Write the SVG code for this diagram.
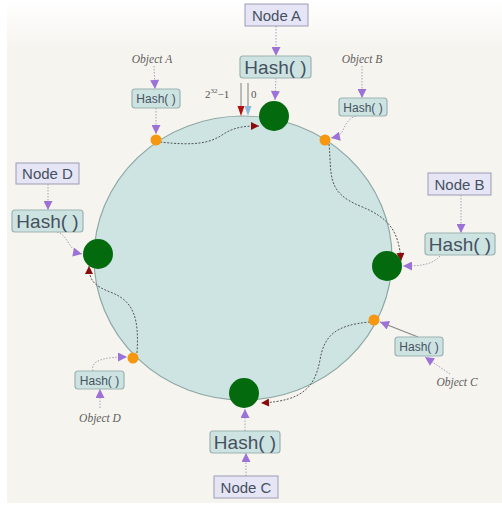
<svg xmlns="http://www.w3.org/2000/svg" width="502" height="510" viewBox="0 0 502 510">
<defs>
<style>
.nbox{fill:#e5e5f6;stroke:#9c9cb4;stroke-width:1}
.hbox{fill:#cde3e2;stroke:#9bb3b1;stroke-width:1.2}
.nt{font-family:"Liberation Sans",Arial,sans-serif;font-size:15px;fill:#46515e;text-anchor:middle}
.ht{font-family:"Liberation Sans",Arial,sans-serif;font-size:19px;fill:#46515e;text-anchor:middle}
.hs{font-family:"Liberation Sans",Arial,sans-serif;font-size:12px;fill:#46515e;text-anchor:middle}
.ot{font-family:"Liberation Serif","Times New Roman",serif;font-style:italic;font-size:11.5px;fill:#5e5e5e;text-anchor:middle}
.lt{font-family:"Liberation Serif","Times New Roman",serif;font-size:11px;fill:#555}
.pl{fill:none;stroke:#a8a0b8;stroke-width:1;stroke-dasharray:1.5 1.5;marker-end:url(#pa)}
.ps{fill:none;stroke:#888;stroke-width:1.2;marker-end:url(#pa)}
.fl{fill:none;stroke:#555;stroke-width:1;stroke-dasharray:2 1.5;marker-end:url(#ra)}
.gn{fill:#036b0e}
.on{fill:#f6980f}
</style>
<marker id="pa" viewBox="0 0 10 10" refX="10" refY="5" markerWidth="10" markerHeight="9" markerUnits="userSpaceOnUse" orient="auto">
<path d="M0,0 L10,5 L0,10 Z" fill="#9c72d6"/>
</marker>
<marker id="ra" viewBox="0 0 10 10" refX="10" refY="5" markerWidth="9" markerHeight="8" markerUnits="userSpaceOnUse" orient="auto">
<path d="M0,0 L10,5 L0,10 Z" fill="#8a0b0b"/>
</marker>
<linearGradient id="tg" x1="0" y1="0" x2="0" y2="1">
<stop offset="0" stop-color="#ffffff" stop-opacity="1"/>
<stop offset="1" stop-color="#ffffff" stop-opacity="0"/>
</linearGradient>
</defs>
<rect x="0" y="0" width="502" height="510" fill="#f6f4ef"/>
<rect x="0" y="0" width="502" height="50" fill="url(#tg)"/>
<rect x="0" y="0" width="7" height="510" fill="#ffffff"/>
<rect x="0" y="503" width="502" height="7" fill="#ffffff"/>

<g id="ring">
<ellipse cx="243" cy="258" rx="149" ry="142" fill="#cde4e3" stroke="#8fa8a4" stroke-width="1.2"/>
</g>

<g id="connectors">
<path class="pl" d="M276,26 L276,56"/>
<path class="pl" d="M276,78 L275,100"/>
<path class="pl" d="M154,66 L155,89"/>
<path class="pl" d="M156,108 L156,134"/>
<path class="pl" d="M362,66 L362,98"/>
<path class="pl" d="M356,116 C348,118 345,126 342,132 C339,136 336,137 331,138"/>
<path class="pl" d="M461,195 L461,233"/>
<path class="pl" d="M440,256 C432,265 420,266 403,266"/>
<path class="pl" d="M450,374 L425,357"/>
<path class="ps" d="M418,337 L380,322"/>
<path class="pl" d="M246,476 L246,453"/>
<path class="pl" d="M245,431 L245,409"/>
<path class="pl" d="M100,408 L100,389"/>
<path class="pl" d="M93,371 C90,360 105,357 127,357"/>
<path class="pl" d="M48,184 L48,210"/>
<path class="pl" d="M57,232 C68,234 68,251 82,254"/>
<line x1="241" y1="83" x2="241" y2="107" stroke="#666" stroke-width="0.8"/>
<line x1="248" y1="83" x2="248" y2="107" stroke="#666" stroke-width="0.8"/>
<path d="M237.5,106 L244.5,106 L241,116 Z" fill="#b01010"/>
<path d="M244.5,106 L251.5,106 L248,116 Z" fill="#8cb8e0"/>
<path class="fl" d="M160,142 C195,146 210,143 222,135 C234,127 244,126 259,126"/>
<path class="fl" d="M329,144 C332,175 326,192 360,206 C390,218 399,232 401,261"/>
<path class="fl" d="M370,322 C335,325 324,336 320,360 C315,386 304,401 261,403"/>
<path class="fl" d="M137,353 C139,320 135,301 110,292 C95,286 89,281 89,266"/>
</g>

<g id="nodeA">
<rect class="nbox" x="245" y="4" width="63" height="22"/>
<text class="nt" x="276.5" y="20.5">Node A</text>
<rect class="hbox" x="240" y="56" width="71" height="22" rx="3"/>
<text class="ht" x="275.5" y="74">Hash( )</text>
<circle class="gn" cx="274" cy="116" r="15"/>
</g>
<g id="nodeB">
<rect class="nbox" x="428" y="173" width="63" height="22"/>
<text class="nt" x="459.5" y="189.5">Node B</text>
<rect class="hbox" x="425" y="233" width="70" height="22" rx="3"/>
<text class="ht" x="460" y="251">Hash( )</text>
<circle class="gn" cx="387" cy="266" r="15"/>
</g>
<g id="nodeC">
<rect class="nbox" x="214" y="476" width="64" height="22"/>
<text class="nt" x="246" y="492.5">Node C</text>
<rect class="hbox" x="210" y="431" width="70" height="22" rx="3"/>
<text class="ht" x="245" y="449">Hash( )</text>
<circle class="gn" cx="244" cy="393" r="15"/>
</g>
<g id="nodeD">
<rect class="nbox" x="16" y="163" width="63" height="21"/>
<text class="nt" x="47.5" y="179">Node D</text>
<rect class="hbox" x="12" y="210" width="71" height="22" rx="3"/>
<text class="ht" x="47.5" y="228">Hash( )</text>
<circle class="gn" cx="98" cy="254" r="15"/>
</g>
<g id="objectA">
<text class="ot" x="152" y="63">Object A</text>
<rect class="hbox" x="132" y="89" width="48" height="19" rx="3"/>
<text class="hs" x="156" y="103">Hash( )</text>
<circle class="on" cx="156" cy="140" r="5.5"/>
</g>
<g id="objectB">
<text class="ot" x="362" y="63">Object B</text>
<rect class="hbox" x="339" y="98" width="48" height="18" rx="3"/>
<text class="hs" x="363" y="111.5">Hash( )</text>
<circle class="on" cx="325" cy="140" r="5.5"/>
</g>
<g id="objectC">
<rect class="hbox" x="395" y="337" width="48" height="19" rx="3"/>
<text class="hs" x="419" y="351">Hash( )</text>
<text class="ot" x="457" y="386">Object C</text>
<circle class="on" cx="374" cy="320" r="5.5"/>
</g>
<g id="objectD">
<rect class="hbox" x="75" y="371" width="49" height="18" rx="3"/>
<text class="hs" x="99.5" y="384.5">Hash( )</text>
<text class="ot" x="100" y="422">Object D</text>
<circle class="on" cx="133" cy="358" r="5.5"/>
</g>
<g id="ringLabels">
<text class="lt" x="205" y="98">2<tspan dy="-5" font-size="7">32</tspan><tspan dy="5">−1</tspan></text>
<text class="lt" x="251" y="98">0</text>
</g>
</svg>
